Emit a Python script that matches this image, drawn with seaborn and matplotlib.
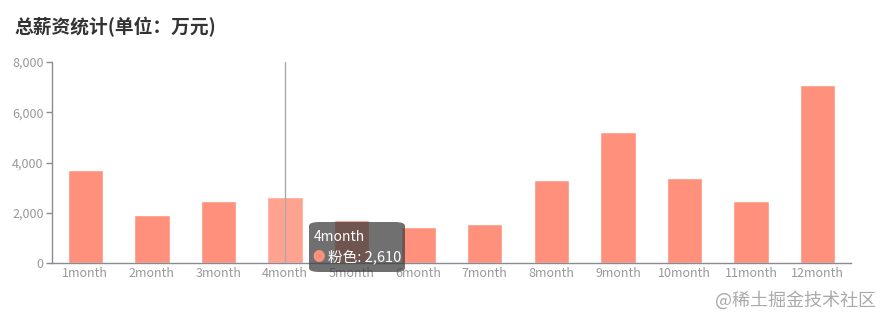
import matplotlib
matplotlib.use("Agg")
import matplotlib.pyplot as plt
import seaborn as sns
import pandas as pd
from matplotlib.patches import FancyBboxPatch
from matplotlib.ticker import FuncFormatter

months = ["1month", "2month", "3month", "4month", "5month", "6month",
          "7month", "8month", "9month", "10month", "11month", "12month"]
salary = [3710, 1920, 2450, 2610, 1720, 1440, 1560, 3290, 5200, 3370, 2480, 7080]
series_name = "粉色"
title = "总薪资统计(单位：万元)"
watermark = "@稀土掘金技术社区"
hover_index = 3

sns.set_theme(style="white")
plt.rcParams['font.family'] = ['Noto Sans CJK SC', 'DejaVu Sans']

W, H = 888, 323
fig = plt.figure(figsize=(W / 100, H / 100), dpi=100)
ax = fig.add_axes([52 / W, 1 - 263 / H, (851 - 52) / W, (263 - 62) / H])

base = "#FF917C"
hi = "#FFA28F"
palette = {m: (hi if i == hover_index else base) for i, m in enumerate(months)}
df = pd.DataFrame({"month": months, "value": salary})
sns.barplot(data=df, x="month", y="value", hue="month", palette=palette,
            legend=False, width=0.53, ax=ax, saturation=1)

ax.set_ylim(0, 8000)
ax.set_xlim(-0.5, len(months) - 0.5)
ax.set_yticks([0, 2000, 4000, 6000, 8000])
ax.yaxis.set_major_formatter(FuncFormatter(lambda v, p: f"{int(v):,}"))
ax.set_xlabel("")
ax.set_ylabel("")
for s in ["top", "right"]:
    ax.spines[s].set_visible(False)
axis_col = "#8A8C94"
for s in ["left", "bottom"]:
    ax.spines[s].set_color(axis_col)
    ax.spines[s].set_linewidth(1)
ax.tick_params(axis="y", length=4, width=1, color=axis_col, labelcolor="#999999",
               labelsize=9, pad=2, left=True)
ax.tick_params(axis="x", length=0, labelcolor="#999999", labelsize=9, pad=3)
ax.grid(False)

# axis pointer line
ax.axvline(hover_index, color="#AAAAAA", lw=1, ymin=0, ymax=1, zorder=5)

# title
fig.text(14 / W, 1 - 27 / H, title, fontsize=13.5, fontweight="bold",
         color="#333333", va="center", ha="left")

# tooltip
tx0, ty0, tw, th = 309, 222, 96, 50
box = FancyBboxPatch((tx0 / W, 1 - (ty0 + th) / H), tw / W, th / H,
                     boxstyle="round,pad=0,rounding_size=0.012",
                     transform=fig.transFigure, facecolor=(0.25, 0.25, 0.25, 0.75),
                     edgecolor="none", zorder=10)
fig.add_artist(box)
fig.text(314 / W, 1 - 237 / H, months[hover_index], fontsize=10, color="white",
         va="center", ha="left", zorder=11)
fig.text(312 / W, 1 - 258 / H, "●", fontsize=9, color=base,
         va="center", ha="left", zorder=11)
fig.text(328 / W, 1 - 258 / H, f"{series_name}: {salary[hover_index]:,}",
         fontsize=10.5, color="white", va="center", ha="left", zorder=11)

# watermark
fig.text(876 / W, 1 - 300 / H, watermark, fontsize=13, color="#AAAAAA",
         va="center", ha="right")

fig.savefig("out.png", dpi=100)
